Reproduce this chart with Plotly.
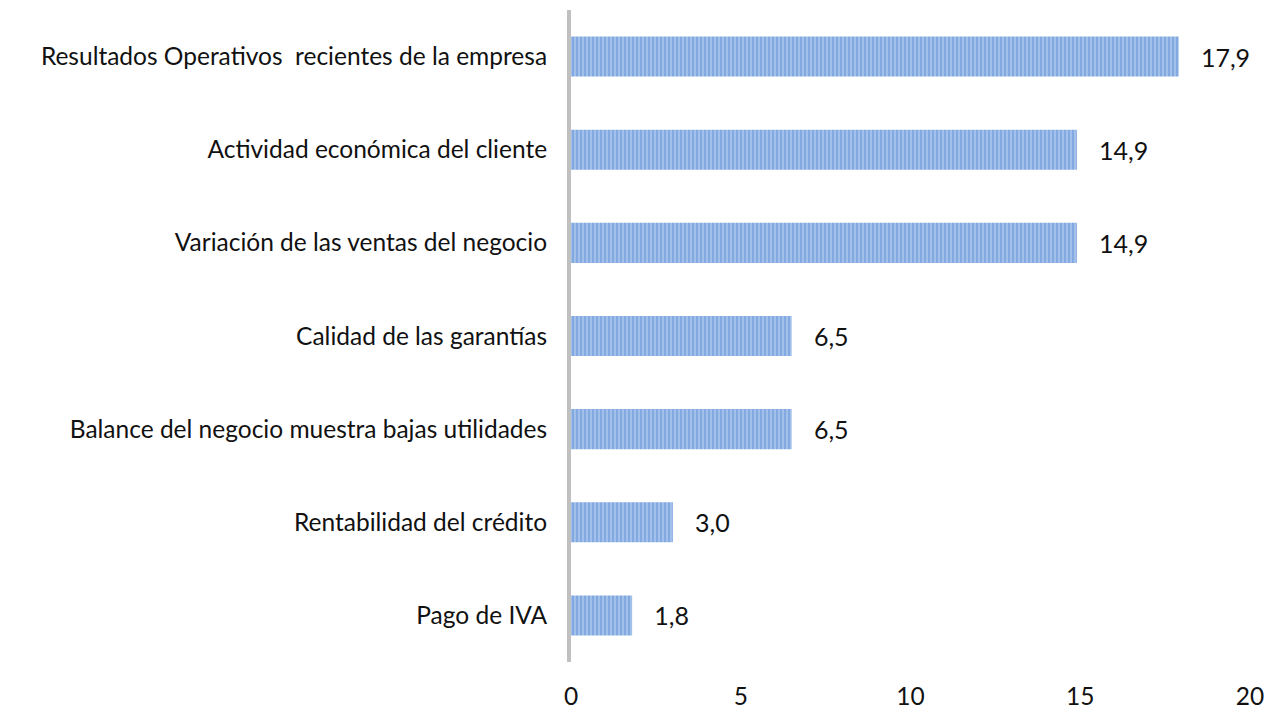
import plotly.graph_objects as go

categories = [
    "Resultados Operativos\u00a0 recientes de la empresa",
    "Actividad económica del cliente",
    "Variación de las ventas del negocio",
    "Calidad de las garantías",
    "Balance del negocio muestra bajas utilidades",
    "Rentabilidad del crédito",
    "Pago de IVA",
]
values = [17.9, 14.9, 14.9, 6.5, 6.5, 3.0, 1.8]
tick_vals = [0, 5, 10, 15, 20]

labels = ["\u00a0\u00a0\u00a0" + f"{v:.1f}".replace(".", ",") for v in values]

# page body has an 8px default margin, so the figure is sized/offset accordingly
fig = go.Figure(go.Bar(
    x=values,
    y=categories,
    orientation="h",
    text=labels,
    textposition="outside",
    textfont=dict(size=25, color="#111111"),
    cliponaxis=False,
    marker=dict(
        color="#c4d7f2",
        line=dict(width=0),
        pattern=dict(shape="|", fgcolor="#3f7bd0", bgcolor="#c4d7f2", size=4, solidity=0.75),
    ),
))

fig.update_layout(
    width=1266, height=701,
    margin=dict(l=563, r=24, t=2, b=47, autoexpand=False),
    paper_bgcolor="white", plot_bgcolor="white",
    font=dict(family="Lato, 'Open Sans', sans-serif", size=24.5, color="#111111"),
    bargap=0.57,
    showlegend=False,
)
fig.update_xaxes(
    range=[0, 20], tickvals=tick_vals, ticktext=[str(t) for t in tick_vals],
    showgrid=False, zeroline=False, showline=False, automargin=False,
    ticks="", ticklabelstandoff=17, tickfont=dict(size=24.5),
)
fig.update_yaxes(
    categoryorder="array", categoryarray=categories[::-1],
    showgrid=False, zeroline=False, automargin=False,
    showline=True, linecolor="#c0c0c0", linewidth=4,
    ticks="", ticklabelstandoff=15, tickfont=dict(size=24.5),
)

fig.write_html("out.html")
